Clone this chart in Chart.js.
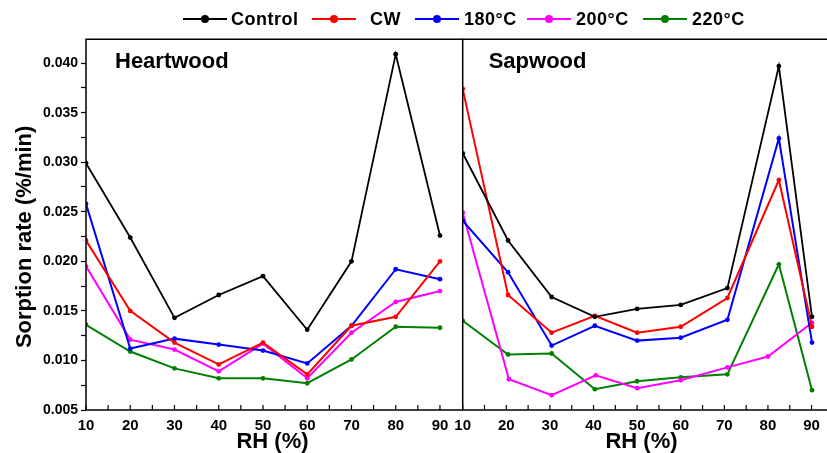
<!DOCTYPE html>
<html>
<head>
<meta charset="utf-8">
<script src="https://cdn.jsdelivr.net/npm/chart.js@4.4.1/dist/chart.umd.min.js"></script>
<style>
	body { margin: 0; background: #fff; }
	#wrap { position: relative; width: 827px; height: 453px; overflow: hidden; background: #fff; }
	canvas { position: absolute; top: 0; }
	#heartChart { left: 0; }
	#sapChart { left: 440px; }
	#legend { position: absolute; left: 0; top: 0; width: 827px; height: 38px; font: bold 18px "Liberation Sans", Arial, sans-serif; letter-spacing: 0.5px; }
	.item { position: absolute; top: 8px; height: 22px; display: flex; align-items: center; white-space: nowrap; }
	.mark { position: relative; width: 44px; height: 2px; }
	.mark span { position: absolute; left: 18px; top: -3px; width: 8px; height: 8px; border-radius: 50%; }
</style>
</head>
<body>
<div id="wrap">
	<canvas id="heartChart" width="463" height="453"></canvas>
	<canvas id="sapChart" width="387" height="453"></canvas>
	<div id="legend"></div>
</div>
<script>
// series names and colours
const seriesNames = ['Control', 'CW', '180°C', '200°C', '220°C'];
const seriesColors = ['#000000', '#ff0000', '#0000ff', '#ff00ff', '#008000'];

// Heartwood
const heartRH = [10, 20, 30, 40, 50, 60, 70, 80, 90];
const heartControl = [0.0299, 0.0224, 0.0143, 0.0166, 0.0185, 0.0131, 0.0200, 0.0409, 0.0226];
const heartCW = [0.0221, 0.0150, 0.0118, 0.0096, 0.0118, 0.0086, 0.0135, 0.0144, 0.0200];
const heart180 = [0.0258, 0.0112, 0.0122, 0.0116, 0.0110, 0.0097, 0.0135, 0.0192, 0.0182];
const heart200 = [0.0195, 0.0121, 0.0111, 0.0089, 0.0117, 0.0082, 0.0128, 0.0159, 0.0170];
const heart220 = [0.0136, 0.0109, 0.0092, 0.0082, 0.0082, 0.0077, 0.0101, 0.0134, 0.0133];

// Sapwood
const sapRH = [10, 20.4, 30.4, 40.3, 50, 60, 70.7, 82.5, 90.1];
const sapRH200 = [10, 20.6, 30.4, 40.5, 50, 60, 70.7, 80, 90.1];
const sapControl = [0.0309, 0.0221, 0.0164, 0.0144, 0.0152, 0.0156, 0.0173, 0.0397, 0.0144];
const sapCW = [0.0374, 0.0166, 0.0128, 0.0145, 0.0128, 0.0134, 0.0163, 0.0282, 0.0134];
const sap180 = [0.0241, 0.0189, 0.0115, 0.0135, 0.0120, 0.0123, 0.0141, 0.0324, 0.0118];
const sap200 = [0.0249, 0.0081, 0.0065, 0.0085, 0.0072, 0.0080, 0.0093, 0.0104, 0.0138];
const sap220 = [0.0140, 0.0106, 0.0107, 0.0071, 0.0079, 0.0083, 0.0086, 0.0197, 0.0070];

// axes
const yMin = 0.005, yMax = 0.0424, yStep = 0.0025;
const xStep = 5;

const FONT = '"Liberation Sans", Arial, sans-serif';
Chart.defaults.font.family = FONT;
Chart.defaults.font.weight = 'bold';
Chart.defaults.color = '#000';

const pts = (xs, ys) => ys.map((y, i) => ({ x: xs[i], y: y }));

function makeSets(list) {
	return list.map((s, i) => ({
		label: seriesNames[i],
		data: pts(s[0], s[1]),
		borderColor: seriesColors[i],
		backgroundColor: seriesColors[i],
		borderWidth: i === 0 ? 1.8 : 2,
		pointRadius: 2.4,
		pointBorderWidth: 0,
		tension: 0
	}));
}

// frame, inward x ticks and panel label
const framePlugin = {
	id: 'frame',
	afterDatasetsDraw(chart, args, opts) {
		const { ctx, chartArea: a, scales } = chart;
		ctx.save();
		ctx.strokeStyle = '#000';
		ctx.lineWidth = 1.5;
		ctx.beginPath();
		ctx.moveTo(chart.width, a.top);
		ctx.lineTo(a.left, a.top);
		ctx.lineTo(a.left, a.bottom);
		ctx.lineTo(chart.width, a.bottom);
		ctx.stroke();
		ctx.lineWidth = 1.2;
		scales.x.ticks.forEach(t => {
			const px = scales.x.getPixelForValue(t.value);
			ctx.beginPath();
			ctx.moveTo(px, a.bottom);
			ctx.lineTo(px, a.bottom - 5);
			ctx.stroke();
		});
		ctx.fillStyle = '#000';
		ctx.font = 'bold 22px ' + FONT;
		ctx.textBaseline = 'middle';
		ctx.fillText(opts.label, a.left + opts.dx, a.top + 23);
		ctx.restore();
	}
};

function makeOptions(xMax, label, dx, yWidth, showY) {
	return {
		responsive: false,
		animation: false,
		layout: { padding: { top: 39.3, left: 0, right: 0, bottom: 0 } },
		plugins: {
			legend: { display: false },
			tooltip: { enabled: false },
			frame: { label: label, dx: dx }
		},
		scales: {
			x: {
				type: 'linear',
				min: 10,
				max: xMax,
				afterFit: s => { s.height = 43; },
				grid: { display: false, drawTicks: false },
				border: { display: false },
				ticks: {
					stepSize: xStep,
					includeBounds: false,
					autoSkip: false,
					maxRotation: 0,
					padding: 7,
					font: { size: 15, weight: 'bold' },
					callback: v => (v % 10 === 0 ? String(v) : '')
				},
				title: {
					display: true,
					text: 'RH (%)',
					font: { size: 22, weight: 'bold', lineHeight: 1 },
					padding: { top: 0, bottom: 0 }
				}
			},
			y: {
				min: yMin,
				max: yMax,
				afterFit: s => { s.width = yWidth; },
				border: { display: false },
				grid: {
					display: showY,
					drawOnChartArea: false,
					drawTicks: true,
					tickLength: 5,
					tickColor: '#000',
					tickWidth: 1.2
				},
				ticks: {
					display: showY,
					stepSize: yStep,
					includeBounds: false,
					autoSkip: false,
					padding: 3,
					font: { size: 14, weight: 'bold' },
					callback: v => (Math.round(v * 10000) % 50 === 0 ? v.toFixed(3) : '')
				},
				title: {
					display: showY,
					text: 'Sorption rate (%/min)    ',
					font: { size: 22, weight: 'bold' },
					padding: { top: 12, bottom: 0 }
				}
			}
		}
	};
}

new Chart(document.getElementById('heartChart'), {
	type: 'line',
	data: {
		datasets: makeSets([
			[heartRH, heartControl],
			[heartRH, heartCW],
			[heartRH, heart180],
			[heartRH, heart200],
			[heartRH, heart220]
		])
	},
	options: makeOptions(94.3, 'Heartwood', 29, 86, true),
	plugins: [framePlugin]
});

new Chart(document.getElementById('sapChart'), {
	type: 'line',
	data: {
		datasets: makeSets([
			[sapRH, sapControl],
			[sapRH, sapCW],
			[sapRH, sap180],
			[sapRH200, sap200],
			[sapRH, sap220]
		])
	},
	options: makeOptions(92, 'Sapwood', 26, 22.7, false),
	plugins: [framePlugin]
});

// legend across the top
const legendLeft = [183, 312, 415, 527, 643];
const legendGap = [4, 14, 5, 5, 5];
const legend = document.getElementById('legend');
seriesNames.forEach((name, i) => {
	const item = document.createElement('div');
	item.className = 'item';
	item.style.left = legendLeft[i] + 'px';
	const mark = document.createElement('div');
	mark.className = 'mark';
	mark.style.background = seriesColors[i];
	const dot = document.createElement('span');
	dot.style.background = seriesColors[i];
	mark.appendChild(dot);
	const text = document.createElement('div');
	text.textContent = name;
	text.style.marginLeft = legendGap[i] + 'px';
	item.appendChild(mark);
	item.appendChild(text);
	legend.appendChild(item);
});
</script>
</body>
</html>
